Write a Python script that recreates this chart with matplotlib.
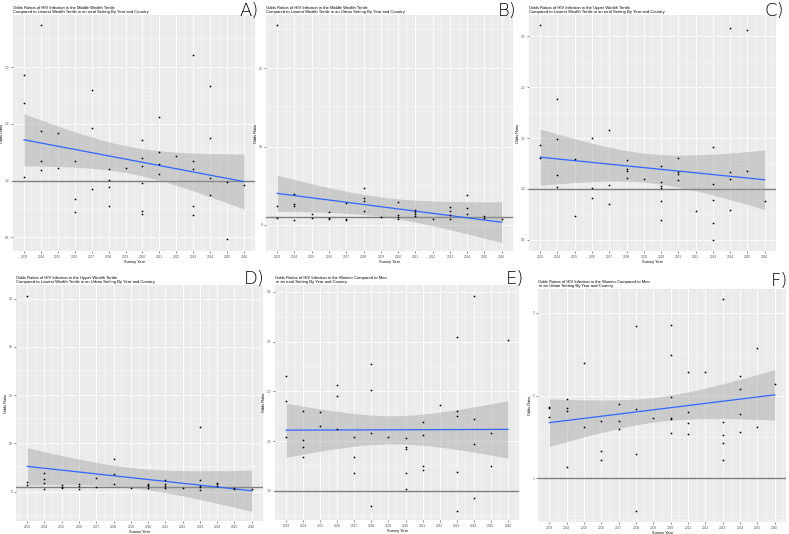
import numpy as np
import matplotlib
matplotlib.use("Agg")
import matplotlib.pyplot as plt

plt.rcParams['font.family'] = ['Liberation Sans', 'DejaVu Sans']

years = list(range(2003, 2017))

# ---- data: (year, odds ratio) per panel ----
a_year = [2003,2003,2003, 2004,2004,2004,2004, 2005,2005, 2006,2006,2006, 2007,2007,2007,
          2008,2008,2008,2008, 2009, 2010,2010,2010,2010,2010,2010, 2011,2011,2011,2011,
          2012, 2013,2013,2013,2013,2013, 2014,2014,2014,2014, 2015,2015, 2016]
a_or = [1.93,1.68,1.03, 2.37,1.44,1.17,1.09, 1.42,1.11, 1.17,0.84,0.72, 1.80,1.46,0.93,
        1.105,1.01,0.94,0.78, 1.11, 1.36,1.20,1.13,0.98,0.73,0.71, 1.56,1.25,1.15,1.06,
        1.22, 2.11,1.17,1.105,0.78,0.70, 1.83,1.38,1.02,0.87, 0.99,0.49, 0.96]

b_year = [2003,2003,2003, 2004,2004,2004,2004, 2005,2005, 2006,2006,2006, 2007,2007,2007,
          2008,2008,2008,2008, 2009, 2010,2010,2010,2010, 2011,2011,2011,2011, 2012,
          2013,2013,2013,2013, 2014,2014,2014, 2015,2015, 2016]
b_or = [25.5,2.34,0.89, 3.9,2.6,2.34,0.6, 1.36,0.85, 1.6,0.9,0.68, 2.8,0.76,0.64,
        4.67,3.44,3.06,1.78, 0.93, 2.9,1.19,1.02,0.72, 1.95,1.66,1.36,1.06, 0.76,
        2.25,1.7,1.19,0.76, 3.8,2.08,1.36, 1.06,0.89, 0.76]

c_year = [2003,2003,2003, 2004,2004,2004,2004, 2005,2005, 2006,2006,2006, 2007,2007,2007,
          2008,2008,2008,2008, 2009, 2010,2010,2010,2010,2010,2010, 2011,2011,2011,2011,
          2012, 2013,2013,2013,2013,2013, 2014,2014,2014,2014, 2015,2015, 2016]
c_or = [2.61,1.43,1.30, 1.88,1.49,1.14,1.02, 1.29,0.73, 1.50,1.01,0.91, 1.58,1.04,0.85,
        1.28,1.20,1.18,1.11, 1.10, 1.23,1.07,1.03,1.01,0.88,0.69, 1.30,1.17,1.15,1.09,
        0.78, 1.41,1.05,0.89,0.67,0.50, 2.58,1.17,1.10,0.79, 2.56,1.18, 0.88]

d_year = [2003,2003,2003, 2004,2004,2004,2004, 2005,2005,2005, 2006,2006,2006, 2007,2007,
          2008,2008,2008, 2009, 2010,2010,2010,2010, 2011,2011,2011,2011, 2012,
          2013,2013,2013,2013,2013, 2014,2014,2014, 2015,2015, 2016]
d_or = [40.5,2.0,1.4, 3.9,2.5,1.8,0.5, 1.3,1.0,0.76, 1.66,1.24,0.55, 2.83,0.9,
        6.8,3.6,1.6, 0.69, 1.66,1.38,1.1,0.83, 2.4,1.6,1.1,0.69, 0.83,
        13.3,2.4,1.1,0.9,0.28, 1.8,1.5,1.1, 0.76,0.62, 0.48]

e_year = [2003,2003,2003, 2004,2004,2004,2004, 2005,2005, 2006,2006,2006, 2007,2007,2007,
          2008,2008,2008,2008, 2009, 2010,2010,2010,2010,2010, 2011,2011,2011,2011, 2012,
          2013,2013,2013,2013,2013, 2014,2014,2014,2014, 2015,2015, 2016]
e_or = [2.15,1.90,1.54, 1.80,1.51,1.44,1.34, 1.79,1.65, 2.06,1.95,1.62, 1.54,1.34,1.18,
        2.27,2.01,1.58,0.85, 1.54, 1.53,1.44,1.42,1.18,1.02, 1.69,1.56,1.25,1.21, 1.86,
        2.55,1.80,1.75,1.19,0.80, 2.96,1.72,1.47,0.93, 1.58,1.25, 2.52]

f_year = [2003,2003,2003, 2004,2004,2004,2004, 2005,2005, 2006,2006,2006, 2007,2007,2007,
          2008,2008,2008,2008, 2009, 2010,2010,2010,2010,2010,2010, 2011,2011,2011,2011,
          2012, 2013,2013,2013,2013,2013, 2014,2014,2014,2014, 2015,2015, 2016]
f_or = [1.86,1.85,1.74, 1.96,1.85,1.81,1.14, 2.40,1.62, 1.69,1.33,1.22, 1.90,1.69,1.60,
        2.84,1.84,1.29,0.60, 1.73, 2.86,2.49,1.98,1.73,1.72,1.55, 2.29,1.80,1.67,1.53,
        2.29, 3.17,1.68,1.52,1.43,1.22, 2.24,2.08,1.78,1.56, 2.57,1.62, 2.14]

titles = [
    "Odds Ratios of HIV Infection in the Middle Wealth Tertile\nCompared to Lowest Wealth Tertile in an rural Setting By Year and Country",
    "Odds Ratios of HIV Infection in the Middle Wealth Tertile\nCompared to Lowest Wealth Tertile in an Urban Setting By Year and Country",
    "Odds Ratios of HIV Infection in the Upper Wealth Tertile\nCompared to Lowest Wealth Tertile in an rural Setting By Year and Country",
    "Odds Ratios of HIV Infection in the Upper Wealth Tertile\nCompared to Lowest Wealth Tertile in an Urban Setting By Year and Country",
    "Odds Ratios of HIV Infection in the Women Compared to Men\n in an rural Setting By Year and Country",
    "Odds Ratios of HIV Infection in the Women Compared to Men\n in an Urban Setting By Year and Country",
]
letters = ["A)", "B)", "C)", "D)", "E)", "F)"]

y_ticks = [[0.5, 1.0, 1.5, 2.0], [0, 10, 20], [0.5, 1.0, 1.5, 2.0, 2.5],
           [0, 10, 20, 30, 40], [1.0, 1.5, 2.0, 2.5, 3.0], [1, 2, 3]]
y_labels = [["0.5", "1.0", "1.5", "2.0"], ["0", "10", "20"],
            ["0.5", "1.0", "1.5", "2.0", "2.5"], ["0", "10", "20", "30", "40"],
            ["1.0", "1.5", "2.0", "2.5", "3.0"], ["1", "2", "3"]]
y_lims = [(0.38, 2.46), (-3.35, 26.8), (0.39, 2.71), (-6.1, 42.8), (0.705, 3.07), (0.47, 3.29)]

panels = [(a_year, a_or), (b_year, b_or), (c_year, c_or),
          (d_year, d_or), (e_year, e_or), (f_year, f_or)]

# axes rectangles in pixels: left, top, right, bottom
W, H = 789, 534
rects = [(13, 15, 255, 251), (266, 15, 513, 251), (529, 15, 776, 251),
         (16, 285, 263, 521), (275, 285, 519, 520), (538, 289, 786, 522)]
letter_pos = [(239, 2), (498, 2), (764, 2), (244, 270), (506, 270), (771, 272)]


def tq(df):
    z = 1.959964
    return z + (z**3 + z) / (4 * df) + (5 * z**5 + 16 * z**3 + 3 * z) / (96 * df**2)


fig = plt.figure(figsize=(W / 100, H / 100), dpi=100)
fig.patch.set_facecolor("white")

for i, ((xs, ys), (l, t, r, b)) in enumerate(zip(panels, rects)):
    ax = fig.add_axes([l / W, 1 - b / H, (r - l) / W, (b - t) / H])
    ax.set_facecolor("#EBEBEB")
    for s in ax.spines.values():
        s.set_visible(False)
    x = np.array(xs, float)
    y = np.array(ys, float)
    ax.set_xlim(2002.35, 2016.65)
    ax.set_xticks(years)
    ax.set_xticklabels([str(v) for v in years])
    ax.set_xticks(np.arange(2002.5, 2017, 1.0), minor=True)
    yt = y_ticks[i]
    step = yt[1] - yt[0]
    ax.set_yticks(yt)
    ax.set_yticklabels(y_labels[i])
    ax.set_yticks(np.arange(yt[0] - step / 2, yt[-1] + step, step), minor=True)
    ax.set_ylim(*y_lims[i])
    ax.grid(True, which="major", color="white", lw=0.6)
    ax.grid(True, which="minor", color="white", lw=0.3)
    ax.set_axisbelow(True)
    ax.tick_params(which="major", length=1.5, width=0.4, color="#333333",
                   labelsize=2.3, labelcolor="#4D4D4D", pad=1.2)
    ax.tick_params(which="minor", length=0)

    # linear fit with 95% confidence band
    n = len(x)
    xb = x.mean()
    sxx = ((x - xb) ** 2).sum()
    slope = ((x - xb) * (y - y.mean())).sum() / sxx
    icpt = y.mean() - slope * xb
    resid = y - (icpt + slope * x)
    s = np.sqrt((resid ** 2).sum() / (n - 2))
    xg = np.linspace(2003, 2016, 80)
    yg = icpt + slope * xg
    se = s * np.sqrt(1 / n + (xg - xb) ** 2 / sxx)
    tv = tq(n - 2)
    ax.axhline(1, color="#7F7F7F", lw=1.0, zorder=2)
    ax.fill_between(xg, yg - tv * se, yg + tv * se, color="#999999", alpha=0.4,
                    lw=0, zorder=3)
    ax.plot(xg, yg, color="#3366FF", lw=0.9, zorder=4)
    ax.scatter(x, y, s=1.6, color="black", lw=0, zorder=5)

    ax.set_xlabel("Survey Year", fontsize=2.8, labelpad=0.6, color="black")
    ax.set_ylabel("Odds Ratio", fontsize=2.8, labelpad=0.6, color="black")
    ax.set_title(titles[i], fontsize=3.0, loc="left", pad=1.5, linespacing=1.1)

    lx, ly = letter_pos[i]
    fig.text(lx / W, 1 - ly / H, letters[i], fontsize=13, va="top", ha="left",
             family="DejaVu Sans", fontweight="light")

fig.savefig("out.png", dpi=100)
